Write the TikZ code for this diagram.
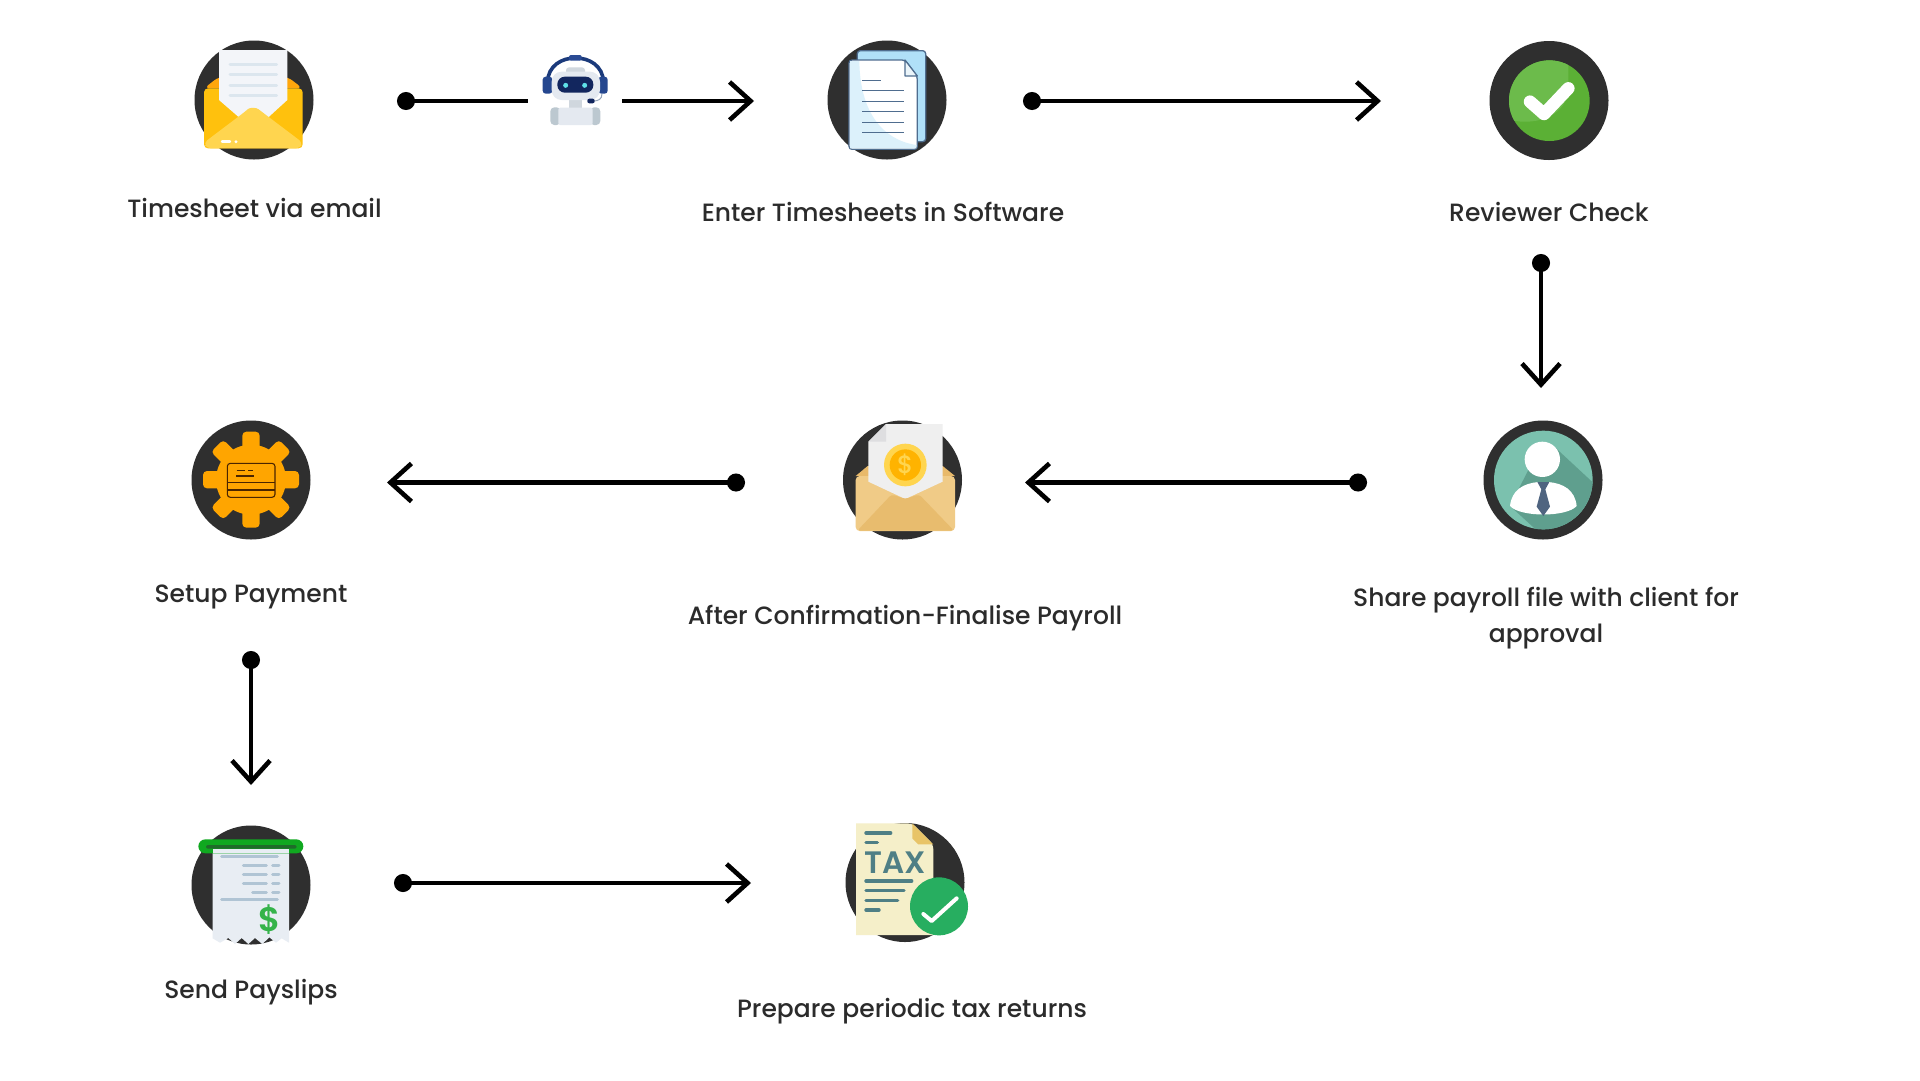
\documentclass[tikz,border=0pt]{standalone}
\usepackage{fontspec}
\setmainfont{Poppins}[UprightFont=* Medium,BoldFont=* SemiBold]
\usetikzlibrary{arrows.meta}
\definecolor{discc}{HTML}{2F2F2F}
\definecolor{txtc}{HTML}{2B2B2B}
\tikzset{
 disc/.style={circle,fill=discc,minimum size=119pt,inner sep=0pt,draw=none},
 lbl/.style={text=txtc,font=\fontsize{25pt}{36pt}\selectfont,align=center,inner sep=0pt},
 conn/.style={line width=4.2pt,black,{Circle[length=18pt,width=18pt]}-{Straight Barb[length=21pt,width=38pt,line width=4.6pt]}},
 zoomed/.style 2 args={shift={(#1,#2)},x=0.33333pt,y=-0.33333pt},
}
\begin{document}
\begin{tikzpicture}[x=1pt,y=-1pt]
\useasboundingbox (0,0) rectangle (1920,1080);
\fill[white] (0,0) rectangle (1920,1080);
% discs
\node[disc] (mail) at (254,100) {};
\node[disc] (docs) at (887,100) {};
\node[disc] (check) at (1549,100.5) {};
\node[disc] (person) at (1543,480) {};
\node[disc] (money) at (902.5,480) {};
\node[disc] (gear) at (251,480) {};
\node[disc] (slip) at (251,885) {};
\node[disc] (tax) at (905,882.5) {};
% labels
\node[lbl] (l1) at (254.5,208) {Timesheet via email};
\node[lbl] (l2) at (883,212) {Enter Timesheets in Software};
\node[lbl] (l3) at (1549,212) {Reviewer Check};
\node[lbl] (l4) at (1546,618) {Share payroll file with client for\\approval};
\node[lbl] (l5) at (905,618) {After Confirmation-Finalise Payroll};
\node[lbl] (l6) at (251,597) {Setup Payment};
\node[lbl] (l7) at (251,992) {Send Payslips};
\node[lbl] (l8) at (912,1011) {Prepare periodic tax returns};
% connector ends
\coordinate (a1s) at (397,101); \coordinate (a1m) at (528,101);
\coordinate (a1n) at (622,101); \coordinate (a1e) at (754,101);
\coordinate (a2s) at (1023,101); \coordinate (a2e) at (1381,101);
\coordinate (a3s) at (1541,254); \coordinate (a3e) at (1541,388);
\coordinate (a4s) at (1367,482.5); \coordinate (a4e) at (1025,482.5);
\coordinate (a5s) at (745,482.5); \coordinate (a5e) at (387,482.5);
\coordinate (a6s) at (251,651); \coordinate (a6e) at (251,785);
\coordinate (a7s) at (394,883); \coordinate (a7e) at (751,883);
\draw[line width=4.2pt,{Circle[length=18pt,width=18pt]}-] (a1s) -- (a1m);
\draw[line width=4.2pt,-{Straight Barb[length=21pt,width=38pt,line width=4.6pt]}] (a1n) -- (a1e);
\foreach \s/\e in {a2s/a2e,a3s/a3e,a4s/a4e,a5s/a5e,a6s/a6e,a7s/a7e} \draw[conn] (\s) -- (\e);
% mail + robot
\begin{scope}[zoomed={170}{20}]
\fill[rounded corners=6pt,fill={rgb,255:red,255;green,166;blue,12}] (102,205) -- (147,170) -- (352,170) -- (398,205) -- cycle;
\fill[fill={rgb,255:red,255;green,193;blue,13},rounded corners=4pt] (102,205) -- (398,205) -- (398,385) -- (102,385) -- cycle;
\fill[fill={rgb,255:red,243;green,245;blue,249}] (147,90) -- (352,90) -- (352,240) -- (295,292) -- (207,292) -- (147,240) -- cycle;
\foreach \y in {133,164,196,227} \draw[line width=3pt,line cap=round,color={rgb,255:red,220;green,230;blue,238}] (180,\y) -- (320,\y);
\fill[fill={rgb,255:red,255;green,213;blue,79},rounded corners=4pt] (102,368) -- (225,275) .. controls (240,262) and (258,262) .. (275,275) -- (398,368) -- (390,385) -- (110,385) -- cycle;
\draw[white,line width=2.4pt,line cap=round] (156,365) -- (180,365);
\fill[white] (198,365) circle (5);
% robot
\draw[color={rgb,255:red,27;green,58;blue,123},line width=3.6pt] (1133,185) .. controls (1135,90) and (1298,90) .. (1300,185);
\fill[color={rgb,255:red,42;green,75;blue,148},rounded corners=2pt] (1197,105) rectangle (1235,122);
\fill[color={rgb,255:red,37;green,71;blue,143},rounded corners=3pt] (1118,170) rectangle (1147,221);
\fill[color={rgb,255:red,37;green,71;blue,143},rounded corners=3pt] (1285,170) rectangle (1313,221);
\fill[color={rgb,255:red,208;green,215;blue,222},rounded corners=3pt] (1188,142) rectangle (1245,170);
\fill[color={rgb,255:red,208;green,215;blue,222}] (1197,235) rectangle (1235,265);
\fill[color={rgb,255:red,188;green,200;blue,208},rounded corners=4pt] (1141,262) rectangle (1172,315);
\fill[color={rgb,255:red,188;green,200;blue,208},rounded corners=4pt] (1260,262) rectangle (1291,315);
\fill[color={rgb,255:red,228;green,233;blue,240},rounded corners=2pt] (1165,263) rectangle (1268,315);
\fill[color={rgb,255:red,228;green,233;blue,240},rounded corners=10pt] (1145,155) rectangle (1290,240);
\fill[color={rgb,255:red,18;green,38;blue,94},rounded corners=7.5pt] (1162,170) rectangle (1270,218);
\fill[color={rgb,255:red,95;green,224;blue,232}] (1187,196) circle (7.5) (1244,196) circle (7.5);
\draw[color={rgb,255:red,150;green,165;blue,185},line width=1pt] (1296,221) .. controls (1296,238) and (1285,243) .. (1270,243);
\fill[color={rgb,255:red,18;green,38;blue,94},rounded corners=2pt] (1252,236) rectangle (1274,250);
\end{scope}
% docs
\begin{scope}[zoomed={800}{20}]
\definecolor{docl}{HTML}{4F6D8F}
\filldraw[fill={rgb,255:red,176;green,224;blue,248},draw=docl,line width=1.3pt,rounded corners=3pt] (172,92) rectangle (377,365);
\filldraw[fill=white,draw=docl,line width=1.3pt,rounded corners=3pt] (147,120) -- (315,120) -- (352,170) -- (352,388) -- (147,388) -- cycle;
\fill[fill={rgb,255:red,220;green,241;blue,251}] (150,123) -- (178,123) .. controls (180,280) and (250,360) .. (349,375) -- (349,385) -- (150,385) -- cycle;
\filldraw[fill={rgb,255:red,235;green,245;blue,250},draw=docl,line width=1.3pt,line join=round] (315,120) -- (315,168) -- (352,168) -- cycle;
\draw[docl,line width=1.4pt] (186,181) -- (243,181);
\foreach \y in {212,244,275,307,338} \draw[docl,line width=1.4pt] (186,\y) -- (312,\y);
\end{scope}
% check
\begin{scope}[zoomed={1470}{30}]
\fill[color={rgb,255:red,91;green,176;blue,53}] (238,212) circle (121);
\begin{scope}
\clip (238,212) circle (121);
\fill[color={rgb,255:red,108;green,187;blue,75}] (295,90) -- (295,180) .. controls (290,250) and (210,290) .. (120,270) -- (100,90) -- cycle;
\end{scope}
\draw[white,line width=12.5pt,line cap=round,line join=round] (180,215) -- (222,252) -- (295,175);
\end{scope}
% person
\begin{scope}[zoomed={1460}{400}]
\fill[color={rgb,255:red,123;green,193;blue,174}] (250,240) circle (148);
\begin{scope}
\clip (250,240) circle (148);
\fill[color={rgb,255:red,95;green,159;blue,142}] (285,142) -- (410,258) -- (400,420) -- (240,400) -- (150,318) -- (205,210) -- cycle;
\end{scope}
\fill[white] (247,178) circle (53);
\fill[white] (150,318) .. controls (155,270) and (190,250) .. (235,246) -- (265,246) .. controls (310,250) and (345,270) .. (350,318) .. controls (320,352) and (180,352) .. (150,318) -- cycle;
\fill[color={rgb,255:red,79;green,100;blue,128}] (232,246) -- (268,246) -- (256,268) -- (270,320) -- (250,348) -- (230,320) -- (244,268) -- cycle;
\end{scope}
% money
\begin{scope}[zoomed={820}{400}]
\fill[color={rgb,255:red,232;green,185;blue,106}] (107,228) -- (143,198) -- (368,198) -- (405,228) -- cycle;
\fill[color={rgb,255:red,240;green,203;blue,135},rounded corners=4pt] (107,228) rectangle (405,393);
\fill[color={rgb,255:red,239;green,239;blue,239}] (198,72) -- (368,72) -- (368,245) -- (256,297) -- (145,245) -- (145,125) -- cycle;
\fill[color={rgb,255:red,222;green,222;blue,224}] (198,72) -- (198,125) -- (145,125) -- cycle;
\fill[color={rgb,255:red,232;green,188;blue,110},rounded corners=3pt] (112,392) -- (215,283) -- (256,297) -- (297,283) -- (402,392) -- cycle;
\fill[color={rgb,255:red,255;green,213;blue,79}] (256,195) circle (64);
\fill[color={rgb,255:red,255;green,179;blue,0}] (256,195) circle (47);
\node[text={rgb,255:red,255;green,213;blue,79},font=\fontsize{25pt}{25pt}\selectfont,inner sep=0pt] (dollar1) at (256,195) {\$};
\end{scope}
% gear
\begin{scope}[zoomed={170}{410}]
\definecolor{gearc}{HTML}{FFA500}
\fill[gearc] (243,209) circle (105);
\foreach \a in {0,45,...,315}
 \fill[gearc,rounded corners=4pt,rotate around={\a:(243,209)}] (217,65) rectangle (269,140);
\filldraw[fill=gearc,draw={rgb,255:red,74;green,37;blue,0},line width=1.1pt,rounded corners=3pt] (172,160) rectangle (315,262);
\draw[color={rgb,255:red,74;green,37;blue,0},line width=1.1pt] (172,218) -- (315,218) (172,240) -- (315,240) (200,181) -- (225,181) (235,181) -- (248,181) (198,198) -- (252,198);
\end{scope}
% payslip
\begin{scope}[zoomed={170}{810}]
\fill[color={rgb,255:red,232;green,237;blue,243}] (128,110) -- (357,110) -- (357,398) -- (335,385) -- (318,398) -- (298,382) -- (277,402) -- (255,384) -- (235,402) -- (215,384) -- (195,402) -- (175,384) -- (150,398) -- (128,385) -- cycle;
\fill[color={rgb,255:red,16;green,168;blue,32},rounded corners=7pt] (85,88) rectangle (400,130);
\fill[color={rgb,255:red,31;green,107;blue,42},rounded corners=2pt] (108,105) rectangle (380,116);
\fill[color={rgb,255:red,232;green,237;blue,243}] (128,117) rectangle (357,130);
\foreach \xa/\xb/\y in {152/325/138,217/292/165,305/330/165,217/292/192,305/330/192,217/292/219,305/330/219,245/292/246,305/330/246,152/325/268}
 \draw[color={rgb,255:red,176;green,196;blue,212},line width=3pt,line cap=round] (\xa+3,\y) -- (\xb-3,\y);
\node[text={rgb,255:red,53;green,179;blue,74},font=\bfseries\fontsize{34pt}{34pt}\selectfont,inner sep=0pt] (dollar2) at (298,328) {\$};
\end{scope}
% tax
\begin{scope}[zoomed={830}{810}]
\definecolor{taxl}{HTML}{4F7F85}
\fill[color={rgb,255:red,245;green,239;blue,201},rounded corners=5pt] (78,40) -- (247,40) -- (310,103) [sharp corners] -- (310,375) -- (78,375) -- cycle;
\fill[color={rgb,255:red,232;green,196;blue,104}] (247,40) -- (247,85) -- (265,103) -- (310,103) -- cycle;
\foreach \a/\b/\y in {103/187/69,103/147/98,103/250/213,103/227/242,103/208/271,103/152/300}
 \draw[taxl,line width=3.4pt,line cap=round] (\a+5,\y) -- (\b-5,\y);
\node[text=taxl,font=\bfseries\fontsize{31pt}{31pt}\selectfont,inner sep=0pt] (taxword) at (195,159) {TAX};
\fill[color={rgb,255:red,39;green,174;blue,96}] (327,289) circle (87);
\draw[white,line width=4pt,line cap=round,line join=round] (280,312) -- (305,333) -- (380,265);
\end{scope}
\end{tikzpicture}
\end{document}
